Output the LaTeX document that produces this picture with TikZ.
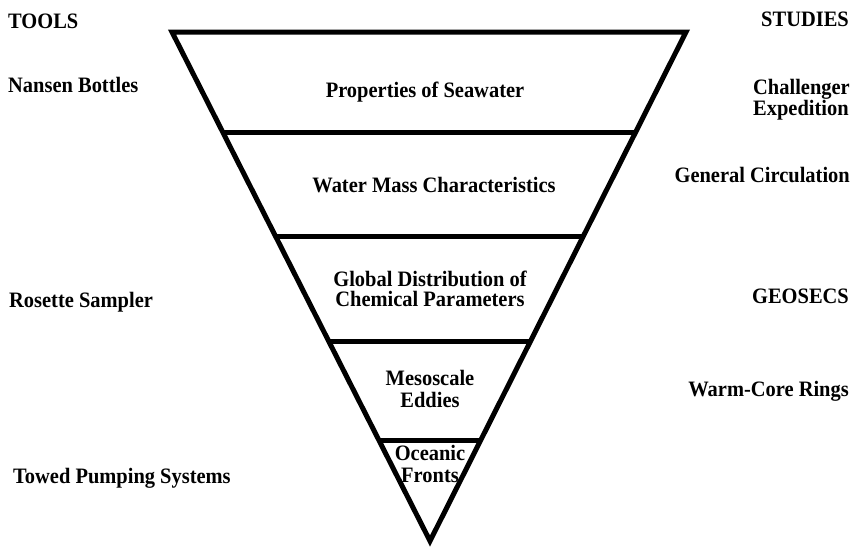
\documentclass[tikz,border=0pt]{standalone}
\usepackage{fontspec}
\setmainfont{Liberation Serif}[FakeStretch=0.93]
\usetikzlibrary{calc}
\tikzset{
  lbl/.style={font=\fontsize{22}{21}\selectfont\bfseries, inner sep=0pt, anchor=base, align=center},
  lside/.style={lbl, anchor=base west, align=left},
  rside/.style={lbl, anchor=base east, align=left},
  edgeline/.style={line width=5pt, line join=miter, line cap=butt},
}
\begin{document}
\begin{tikzpicture}[x=1pt,y=-1pt]
\useasboundingbox (0,0) rectangle (851,552);
% triangle
\coordinate (tl) at (172,32);
\coordinate (tr) at (686,32);
\coordinate (ap) at (430,541);
\draw[edgeline] (tl) -- (tr) -- (ap) -- cycle;
% dividers
\foreach \t [count=\i] in {0.1984,0.4008,0.6090,0.8035}{
  \coordinate (l\i) at ($(tl)!\t!(ap)$);
  \coordinate (r\i) at ($(tr)!\t!(ap)$);
  \draw[edgeline] (l\i) -- (r\i);
}
% layer labels (base = last line)
\node[lbl] (prop) at (425,97) {Properties of Seawater};
\node[lbl] (water) at (434,192) {Water Mass Characteristics};
\node[lbl] (glob) at (430,306) {Global Distribution of\\[-1pt]Chemical Parameters};
\node[lbl] (meso) at (430,407) {Mesoscale\\[1pt]Eddies};
\node[lbl] (ocean) at (430,482) {Oceanic\\[1pt]Fronts};
% tools
\node[lside] (tools) at (8,28) {TOOLS};
\node[lside] (nansen) at (8,92) {Nansen Bottles};
\node[lside] (rosette) at (9,307) {Rosette Sampler};
\node[lside] (towed) at (13,483) {Towed Pumping Systems};
% studies
\node[rside] (studies) at (849,26) {STUDIES};
\node[rside] (chall) at (850,115) {Challenger\\[0pt]Expedition};
\node[rside] (genc) at (850,182) {General Circulation};
\node[rside] (geo) at (849,303) {GEOSECS};
\node[rside] (warm) at (849,396) {Warm-Core Rings};
\end{tikzpicture}
\end{document}
